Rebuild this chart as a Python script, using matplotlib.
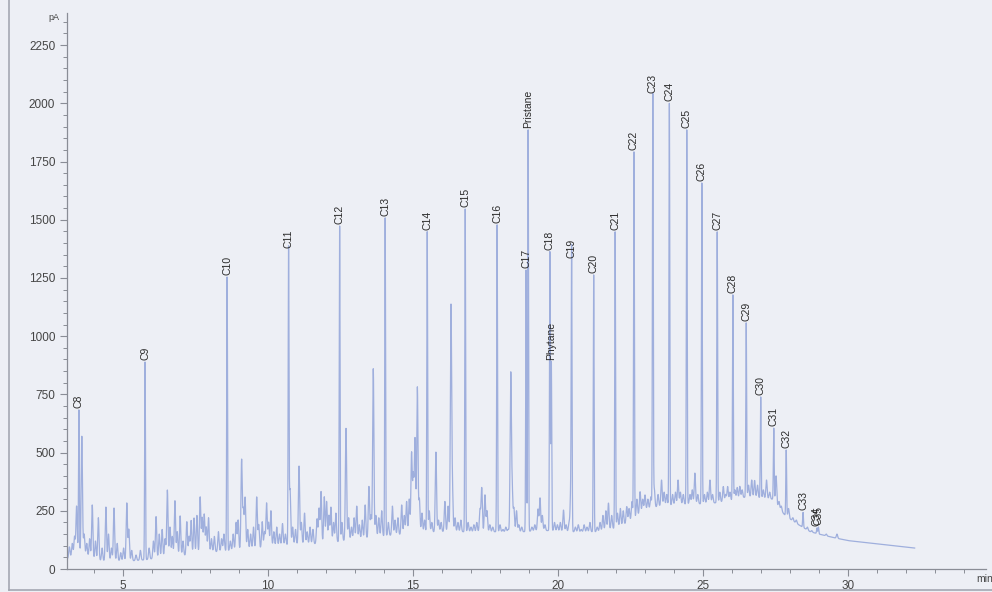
import numpy as np
import matplotlib
matplotlib.use("Agg")
import matplotlib.pyplot as plt
from matplotlib.ticker import MultipleLocator
from matplotlib.lines import Line2D

plt.rcParams['font.family'] = ['Liberation Sans', 'DejaVu Sans']

# Baseline (valley floor) of the FID trace, retention time in min / signal in pA
base_rt = [3.1, 3.3, 3.6, 3.9, 4.3, 4.8, 5.3, 5.8, 6.3, 6.8, 7.3, 7.8, 8.3, 8.8,
           9.3, 9.8, 10.3, 10.8, 11.3, 11.8, 12.3, 12.8, 13.3, 13.8, 14.3, 14.8,
           15.3, 15.8, 16.3, 16.8, 17.3, 17.8, 18.3, 18.8, 19.3, 19.8, 20.3, 20.8,
           21.3, 21.8, 22.2, 22.6, 23.0, 23.5, 24.0, 24.5, 25.0, 25.5, 26.0, 26.5,
           27.0, 27.4, 27.6, 27.8, 28.0, 28.3, 28.7, 29.0, 29.5, 30.0, 31.0, 32.3]
base_pa = [45, 60, 70, 45, 35, 35, 35, 40, 50, 55, 60, 70, 75, 80,
           85, 90, 100, 105, 105, 110, 115, 125, 130, 140, 145, 150,
           155, 160, 160, 160, 160, 160, 160, 160, 165, 165, 160, 160,
           160, 170, 185, 215, 255, 270, 275, 280, 280, 285, 295, 310,
           305, 300, 265, 235, 215, 190, 160, 150, 135, 122, 108, 90]

# Identified compounds: retention time (min) and apex height (pA)
named_labels = ['C8', 'C9', 'C10', 'C11', 'C12', 'C13', 'C14', 'C15', 'C16',
                'C17', 'Pristane', 'C18', 'Phytane', 'C19', 'C20', 'C21', 'C22',
                'C23', 'C24', 'C25', 'C26', 'C27', 'C28', 'C29', 'C30', 'C31',
                'C32', 'C33', 'C34', 'C35']
named_rt = [3.48, 5.76, 8.59, 10.71, 12.47, 14.04, 15.49, 16.80, 17.90,
            18.90, 18.97, 19.72, 19.77, 20.47, 21.23, 21.97, 22.62,
            23.27, 23.84, 24.44, 24.96, 25.49, 26.03, 26.49, 26.99, 27.44,
            27.87, 28.45, 28.93, 28.98]
named_pa = [683, 889, 1254, 1370, 1473, 1508, 1448, 1546, 1478,
            1284, 1886, 1362, 890, 1327, 1263, 1448, 1791,
            2036, 2000, 1886, 1658, 1448, 1177, 1057, 739, 605,
            511, 243, 176, 180]

# Unlabelled peaks: retention time (min) and apex height (pA)
minor_rt = [3.15, 3.25, 3.33, 3.40, 3.58, 3.66, 3.75, 3.85, 3.94, 4.05, 4.15, 4.28,
            4.41, 4.50, 4.60, 4.69, 4.80, 4.92, 5.02, 5.13, 5.20, 5.30, 5.45, 5.60,
            5.90, 6.05, 6.14, 6.25, 6.35, 6.45, 6.53, 6.62, 6.70, 6.79, 6.87, 6.97,
            7.07, 7.20, 7.28, 7.35, 7.45, 7.55, 7.66, 7.73, 7.80, 7.87, 7.95, 8.05,
            8.15, 8.29, 8.40, 8.48, 8.70, 8.80, 8.90, 8.97, 9.09, 9.15, 9.21, 9.30,
            9.40, 9.50, 9.61, 9.68, 9.80, 9.88, 9.95, 10.02, 10.10, 10.20, 10.30,
            10.40, 10.50, 10.60, 10.76, 10.85, 10.95, 11.07, 11.15, 11.26, 11.35,
            11.45, 11.55, 11.69, 11.76, 11.83, 11.94, 12.02, 12.10, 12.17, 12.26,
            12.34, 12.55, 12.69, 12.78, 12.88, 12.97, 13.06, 13.15, 13.25, 13.35,
            13.48, 13.55, 13.63, 13.72, 13.82, 13.92, 14.15, 14.29, 14.38, 14.48,
            14.61, 14.70, 14.78, 14.87, 14.95, 15.01, 15.07, 15.15, 15.22, 15.31,
            15.40, 15.56, 15.65, 15.79, 15.88, 15.97, 16.10, 16.21, 16.31, 16.36,
            16.45, 16.55, 16.65, 16.90, 17.00, 17.10, 17.20, 17.31, 17.37, 17.48,
            17.55, 17.65, 17.75, 18.00, 18.10, 18.20, 18.28, 18.37, 18.42, 18.48,
            18.57, 18.65, 18.75, 19.10, 19.20, 19.31, 19.38, 19.46, 19.55, 19.88,
            19.98, 20.08, 20.19, 20.28, 20.38, 20.44, 20.60, 20.70, 20.80, 20.90,
            21.00, 21.10, 21.35, 21.45, 21.55, 21.65, 21.74, 21.85, 22.05, 22.15,
            22.25, 22.37, 22.45, 22.55, 22.72, 22.83, 22.92, 23.00, 23.10, 23.20,
            23.32, 23.45, 23.57, 23.66, 23.75, 23.95, 24.05, 24.14, 24.22, 24.32,
            24.55, 24.63, 24.72, 24.82, 25.05, 25.15, 25.24, 25.33, 25.58, 25.70,
            25.78, 25.85, 25.93, 26.10, 26.18, 26.27, 26.35, 26.57, 26.68, 26.78,
            26.88, 27.08, 27.19, 27.30, 27.52, 27.62, 27.70, 27.95, 28.10, 28.22,
            28.60, 28.75, 29.25, 29.62]
minor_pa = [95, 110, 140, 270, 570, 150, 110, 130, 275, 120, 220, 90,
            266, 150, 90, 262, 110, 70, 90, 283, 170, 80, 60, 80,
            90, 120, 225, 150, 170, 130, 339, 180, 140, 293, 160, 228,
            120, 203, 140, 208, 219, 230, 309, 220, 235, 180, 220, 130,
            140, 160, 130, 150, 120, 150, 200, 210, 468, 250, 305, 170,
            150, 180, 309, 190, 203, 160, 283, 200, 250, 160, 180,
            150, 195, 150, 343, 180, 170, 442, 200, 240, 160,
            180, 170, 215, 260, 332, 310, 290, 230, 265, 200,
            240, 200, 604, 220, 180, 220, 270, 190, 210, 275,
            354, 230, 860, 230, 220, 250, 200, 270, 210, 220,
            275, 230, 290, 300, 497, 400, 558, 781, 300, 240,
            210, 250, 200, 502, 210, 200, 290, 270, 1125, 332,
            220, 200, 210, 200, 180, 190, 200, 255, 348, 318,
            250, 190, 180, 190, 170, 180, 170, 833, 340, 260,
            250, 190, 180, 180, 190, 257, 305, 230, 190, 200,
            190, 200, 253, 190, 200, 330, 180, 190, 170, 190,
            180, 200, 180, 200, 230, 250, 283, 230, 240, 260,
            250, 268, 260, 290, 300, 332, 300, 318, 300, 310,
            345, 320, 382, 330, 320, 320, 330, 382, 330, 320,
            320, 340, 412, 320, 320, 330, 382, 320, 330, 354,
            320, 354, 330, 340, 350, 355, 340, 360, 382, 380,
            360, 340, 382, 330, 400, 290, 270, 260, 220, 210,
            180, 165, 150, 150]

# Trace sampling grid (min)
t = np.arange(3.1, 32.3, 0.002)
baseline = np.interp(t, base_rt, base_pa)
signal = baseline.copy()

def add_peaks(rts, heights, sigma):
    global signal
    for rt, h in zip(rts, heights):
        amp = max(h - np.interp(rt, base_rt, base_pa), 0.0)
        signal += amp * np.exp(-0.5 * ((t - rt) / sigma) ** 2)

add_peaks(minor_rt, minor_pa, 0.022)
add_peaks(named_rt, named_pa, 0.014)

# ---- figure ----
W, H = 992, 592
bg = '#edeff5'
fig = plt.figure(figsize=(W / 100, H / 100), dpi=100, facecolor=bg)
ax = fig.add_axes([67 / W, 1 - 569 / H, (986 - 67) / W, (569 - 13) / H])
ax.set_facecolor(bg)

trace_color = '#9fafdd'
ax.plot(t, signal, color=trace_color, lw=0.9)

for lab, rt, h in zip(named_labels, named_rt, named_pa):
    ax.annotate(lab, (rt, h), xytext=(0, 1.5), textcoords='offset points',
                rotation=90, ha='center', va='bottom', fontsize=7.5,
                color='#2a2a2a')

x0 = 5 - (123 - 67) / 29.0
x1 = 5 + (986 - 123) / 29.0
ax.set_xlim(x0, x1)
ax.set_ylim(0, 2388)

ax.xaxis.set_major_locator(MultipleLocator(5))
ax.xaxis.set_minor_locator(MultipleLocator(1))
ax.yaxis.set_major_locator(MultipleLocator(250))
ax.yaxis.set_minor_locator(MultipleLocator(50))

for s in ['top', 'right']:
    ax.spines[s].set_visible(False)
for s in ['left', 'bottom']:
    ax.spines[s].set_color('#8a8d96')
    ax.spines[s].set_linewidth(0.9)

ax.tick_params(axis='both', which='major', length=5, width=0.8, color='#8a8d96',
               labelsize=8.5, labelcolor='#454545')
ax.tick_params(axis='both', which='minor', length=3, width=0.7, color='#8a8d96')
ax.tick_params(axis='x', pad=3)

ax.text(-0.008, 1 - 4 / 556, 'pA', transform=ax.transAxes, ha='right', va='center',
        fontsize=6.5, color='#454545')
fig.text(976 / W, 1 - 579 / H, 'min', ha='left', va='center', fontsize=7.5,
         color='#454545')

# outer frame of the printout
fig.add_artist(Line2D([9 / W, 9 / W], [1 - 590 / H, 1.0], color='#a4a8b2', lw=1.2))
fig.add_artist(Line2D([9 / W, 1.0], [1 - 590 / H, 1 - 590 / H], color='#a4a8b2', lw=1.2))

fig.savefig('out.png', dpi=100, facecolor=fig.get_facecolor())
